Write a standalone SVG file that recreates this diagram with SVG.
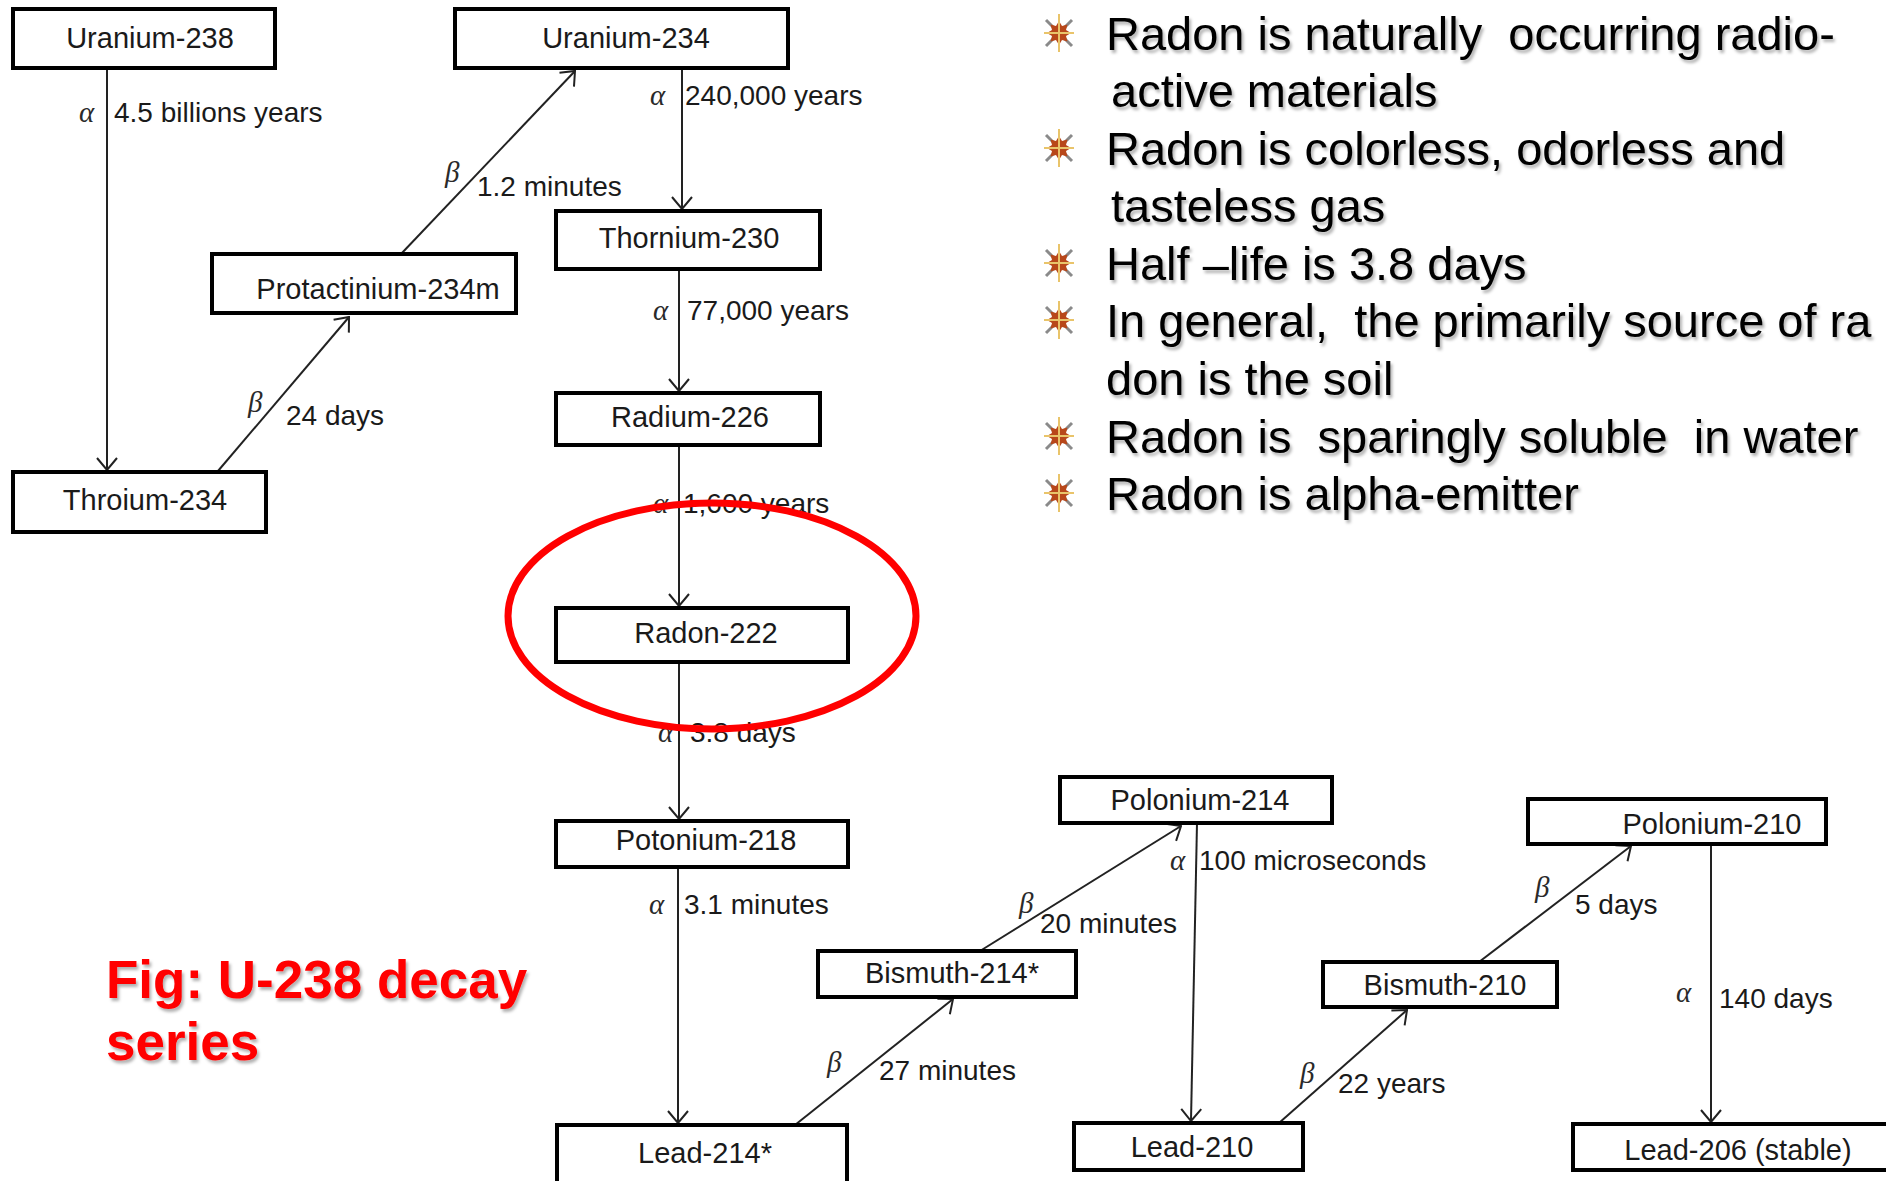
<svg xmlns="http://www.w3.org/2000/svg" xmlns:xlink="http://www.w3.org/1999/xlink" width="1886" height="1181" viewBox="0 0 1886 1181">
<style>
  .box { fill: #ffffff; stroke: #000000; stroke-width: 4; }
  .nlabel { font-family: "Liberation Sans", Arial, sans-serif; font-size: 29px; fill: #1a1a1a; text-anchor: middle; }
  .elabel { font-family: "Liberation Sans", Arial, sans-serif; font-size: 28px; fill: #1a1a1a; }
  .greek { font-family: "Liberation Serif", "DejaVu Serif", serif; font-style: italic; font-size: 29px; fill: #2a2a2a; }
  .conn { stroke: #222222; stroke-width: 2; fill: none; marker-end: url(#arrow); }
  .bullet-text { font-family: "Liberation Sans", Arial, sans-serif; font-size: 47px; fill: #000000; white-space: pre; filter: url(#shadow); }
  .title { font-family: "Liberation Sans", Arial, sans-serif; font-size: 53px; font-weight: bold; fill: #ff0000; filter: url(#shadow); }
</style>
<defs>
  <marker id="arrow" markerUnits="userSpaceOnUse" viewBox="0 0 14 22" refX="13" refY="11" markerWidth="14" markerHeight="22" orient="auto">
    <path d="M1,1 L13,11 L1,21" fill="none" stroke="#222222" stroke-width="2"/>
  </marker>
  <filter id="shadow" x="-5%" y="-20%" width="110%" height="150%">
    <feDropShadow dx="2" dy="3" stdDeviation="1.5" flood-color="#000000" flood-opacity="0.3"/>
  </filter>
  <symbol id="star" viewBox="-20 -20 40 40" overflow="visible">
    <line x1="-13" y1="-13" x2="13" y2="13" stroke="#8a8a8a" stroke-width="3"/>
    <line x1="13" y1="-13" x2="-13" y2="13" stroke="#8a8a8a" stroke-width="3"/>
    <polygon points="0,-12 3,-7 8.5,-8.5 7,-3 12,0 7,3 8.5,8.5 3,7 0,12 -3,7 -8.5,8.5 -7,3 -12,0 -7,-3 -8.5,-8.5 -3,-7" fill="#b8471a"/>
    <line x1="0" y1="-19" x2="0" y2="19" stroke="#e9c46a" stroke-width="2"/>
    <line x1="-15" y1="0" x2="15" y2="0" stroke="#e9c46a" stroke-width="2"/>
  </symbol>
</defs>
<rect x="0" y="0" width="1886" height="1181" fill="#ffffff"/>

<g id="connectors">
  <line class="conn" x1="107" y1="68" x2="107" y2="470"/>
  <line class="conn" x1="218" y1="471" x2="349" y2="317"/>
  <line class="conn" x1="401" y1="254" x2="575" y2="71"/>
  <line class="conn" x1="682" y1="68" x2="682" y2="209"/>
  <line class="conn" x1="679" y1="269" x2="679" y2="391"/>
  <line class="conn" x1="679" y1="445" x2="679" y2="606"/>
  <line class="conn" x1="679" y1="662" x2="679" y2="819"/>
  <line class="conn" x1="678" y1="867" x2="678" y2="1123"/>
  <line class="conn" x1="795" y1="1125" x2="953" y2="999"/>
  <line class="conn" x1="980" y1="951" x2="1181" y2="826"/>
  <line class="conn" x1="1197" y1="823" x2="1191" y2="1121"/>
  <line class="conn" x1="1279" y1="1123" x2="1407" y2="1010"/>
  <line class="conn" x1="1479" y1="962" x2="1631" y2="846"/>
  <line class="conn" x1="1711" y1="844" x2="1711" y2="1122"/>
</g>

<g id="edge-labels">
  <text class="greek" x="79" y="122">α</text><text class="elabel" x="114" y="122">4.5 billions years</text>
  <text class="greek" x="445" y="182">β</text><text class="elabel" x="477" y="196">1.2 minutes</text>
  <text class="greek" x="248" y="412">β</text><text class="elabel" x="286" y="425">24 days</text>
  <text class="greek" x="650" y="105">α</text><text class="elabel" x="685" y="105">240,000 years</text>
  <text class="greek" x="653" y="320">α</text><text class="elabel" x="687" y="320">77,000 years</text>
  <text class="greek" x="653" y="513">α</text><text class="elabel" x="683" y="513">1,600 years</text>
  <text class="greek" x="658" y="742">α</text><text class="elabel" x="690" y="742">3.8 days</text>
  <text class="greek" x="649" y="914">α</text><text class="elabel" x="684" y="914">3.1 minutes</text>
  <text class="greek" x="827" y="1072">β</text><text class="elabel" x="879" y="1080">27 minutes</text>
  <text class="greek" x="1019" y="913">β</text><text class="elabel" x="1040" y="933">20 minutes</text>
  <text class="greek" x="1170" y="870">α</text><text class="elabel" x="1199" y="870">100 microseconds</text>
  <text class="greek" x="1300" y="1083">β</text><text class="elabel" x="1338" y="1093">22 years</text>
  <text class="greek" x="1535" y="897">β</text><text class="elabel" x="1575" y="914">5 days</text>
  <text class="greek" x="1676" y="1002">α</text><text class="elabel" x="1719" y="1008">140 days</text>
</g>

<g id="node-u238"><rect class="box" x="13" y="9" width="262" height="59"/><text class="nlabel" x="150" y="48">Uranium-238</text></g>
<g id="node-u234"><rect class="box" x="455" y="9" width="333" height="59"/><text class="nlabel" x="626" y="48">Uranium-234</text></g>
<g id="node-pa234m"><rect class="box" x="212" y="254" width="304" height="59"/><text class="nlabel" x="378" y="299">Protactinium-234m</text></g>
<g id="node-th234"><rect class="box" x="13" y="472" width="253" height="60"/><text class="nlabel" x="145" y="510">Throium-234</text></g>
<g id="node-th230"><rect class="box" x="556" y="211" width="264" height="58"/><text class="nlabel" x="689" y="248">Thornium-230</text></g>
<g id="node-ra226"><rect class="box" x="556" y="393" width="264" height="52"/><text class="nlabel" x="690" y="427">Radium-226</text></g>
<g id="node-rn222"><rect class="box" x="556" y="608" width="292" height="54"/><text class="nlabel" x="706" y="643">Radon-222</text></g>
<g id="node-po218"><rect class="box" x="556" y="821" width="292" height="46"/><text class="nlabel" x="706" y="850">Potonium-218</text></g>
<g id="node-pb214"><rect class="box" x="557" y="1125" width="290" height="80"/><text class="nlabel" x="705" y="1163">Lead-214*</text></g>
<g id="node-bi214"><rect class="box" x="818" y="951" width="258" height="46"/><text class="nlabel" x="952" y="983">Bismuth-214*</text></g>
<g id="node-po214"><rect class="box" x="1060" y="777" width="272" height="46"/><text class="nlabel" x="1200" y="810">Polonium-214</text></g>
<g id="node-pb210"><rect class="box" x="1074" y="1123" width="229" height="47"/><text class="nlabel" x="1192" y="1157">Lead-210</text></g>
<g id="node-bi210"><rect class="box" x="1323" y="962" width="234" height="45"/><text class="nlabel" x="1445" y="995">Bismuth-210</text></g>
<g id="node-po210"><rect class="box" x="1528" y="799" width="298" height="45"/><text class="nlabel" x="1712" y="834">Polonium-210</text></g>
<g id="node-pb206"><rect class="box" x="1573" y="1124" width="330" height="46"/><text class="nlabel" x="1738" y="1160">Lead-206 (stable)</text></g>

<ellipse id="highlight" cx="712" cy="616" rx="204" ry="113" fill="none" stroke="#ff0000" stroke-width="7"/>

<g id="bullets">
  <use xlink:href="#star" x="1039" y="13" width="40" height="40"/>
  <use xlink:href="#star" x="1039" y="128" width="40" height="40"/>
  <use xlink:href="#star" x="1039" y="243" width="40" height="40"/>
  <use xlink:href="#star" x="1039" y="300" width="40" height="40"/>
  <use xlink:href="#star" x="1039" y="416" width="40" height="40"/>
  <use xlink:href="#star" x="1039" y="473" width="40" height="40"/>
  <text class="bullet-text" x="1106" y="50" xml:space="preserve">Radon is naturally  occurring radio-</text>
  <text class="bullet-text" x="1111" y="107">active materials</text>
  <text class="bullet-text" x="1106" y="165">Radon is colorless, odorless and</text>
  <text class="bullet-text" x="1111" y="222">tasteless gas</text>
  <text class="bullet-text" x="1106" y="280">Half –life is 3.8 days</text>
  <text class="bullet-text" x="1106" y="337" xml:space="preserve">In general,  the primarily source of ra</text>
  <text class="bullet-text" x="1106" y="395">don is the soil</text>
  <text class="bullet-text" x="1106" y="453" xml:space="preserve">Radon is  sparingly soluble  in water</text>
  <text class="bullet-text" x="1106" y="510">Radon is alpha-emitter</text>
</g>

<g id="caption">
  <text class="title" x="106" y="998">Fig: U-238 decay</text>
  <text class="title" x="106" y="1060">series</text>
</g>
</svg>
